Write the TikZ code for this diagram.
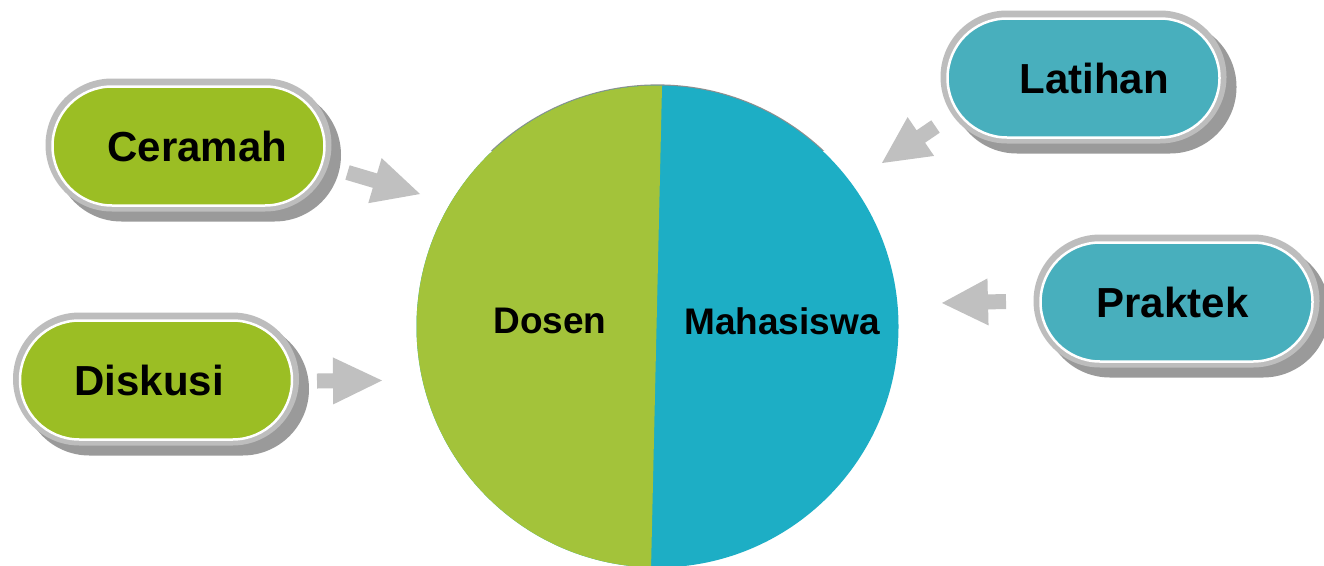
\documentclass[tikz,border=0pt]{standalone}
\usepackage{fontspec}
\setmainfont{Liberation Sans}
\usetikzlibrary{shapes.misc,calc}
\definecolor{pillgreen}{HTML}{9BBE24}
\definecolor{pillblue}{HTML}{48AFBD}
\definecolor{piegreen}{HTML}{A3C33A}
\definecolor{pieblue}{HTML}{1DAEC5}
\definecolor{ringgray}{HTML}{BDBDBD}
\definecolor{shadowgray}{HTML}{9A9A9A}
\definecolor{arrowgray}{HTML}{C0C0C0}
\definecolor{rimgray}{HTML}{8E8E8E}
\tikzset{
  pillshadow/.style={rounded rectangle, fill=shadowgray, minimum width=286pt, minimum height=133pt, inner sep=0pt},
  pillring/.style={rounded rectangle, fill=ringgray, minimum width=286pt, minimum height=133pt, inner sep=0pt},
  pill/.style={rounded rectangle, draw=white, line width=2.5pt, minimum width=272pt, minimum height=119pt, inner sep=0pt, font=\fontsize{42}{50}\selectfont\bfseries},
  greenpill/.style={pill, fill=pillgreen},
  bluepill/.style={pill, fill=pillblue},
  pielabel/.style={font=\fontsize{37}{44}\selectfont\bfseries, inner sep=0pt},
  arrowbody/.style={fill=arrowgray},
}
% block arrow from tail #1 to tip #2 with head length #3
\newcommand\blockarrow[3]{%
  \coordinate (hb) at ($(#2)!#3!(#1)$);
  \fill[arrowbody] ($(#1)!7.5pt!90:(#2)$) -- ($(hb)!7.5pt!-90:(#1)$) -- ($(hb)!23.5pt!-90:(#1)$) -- (#2)
     -- ($(hb)!23.5pt!90:(#1)$) -- ($(hb)!7.5pt!90:(#1)$) -- ($(#1)!7.5pt!-90:(#2)$) -- cycle;
}
\begin{document}
\begin{tikzpicture}[x=1pt,y=-1pt]
\useasboundingbox (0,0) rectangle (1324,565);
\fill[white] (0,0) rectangle (1324,565);

% pie
\coordinate (pc) at (657.5,326.5);
\begin{scope}
  \clip (0,0) rectangle (1324,150);
  \draw[rimgray, line width=1.6pt] (pc) circle (241.3pt);
\end{scope}
\begin{scope}
  \clip (pc) circle (241pt);
  \fill[pieblue] (400,60) rectangle (920,600);
  \fill[piegreen] (400,60) -- (662.6,60) -- (650.3,600) -- (400,600) -- cycle;
\end{scope}
\node[pielabel] (dosen) at (550,321) {Dosen};
\node[pielabel] (mhs) at (782,321) {Mahasiswa};

% pills
\node[pillshadow] (s1) at (198,155) {};
\node[pillring] (r1) at (188.5,145) {};
\node[greenpill] (ceramah) at (188.5,146) {\hspace*{18pt}Ceramah};

\node[pillshadow] (s2) at (166,389) {};
\node[pillring] (r2) at (156,379) {};
\node[greenpill] (diskusi) at (156,380) {Diskusi\hspace*{14pt}};

\node[pillshadow] (s3) at (1093.5,87) {};
\node[pillring] (r3) at (1083.5,77) {};
\node[bluepill] (latihan) at (1083.5,78) {\hspace*{21pt}Latihan};

\node[pillshadow] (s4) at (1186.5,311) {};
\node[pillring] (r4) at (1176.5,301) {};
\node[bluepill] (praktek) at (1176.5,302) {Praktek\hspace*{8pt}};

% arrows
\coordinate (a1t) at (347.5,172.5); \coordinate (a1h) at (420,194);
\blockarrow{a1t}{a1h}{47pt}
\coordinate (a2t) at (317,381); \coordinate (a2h) at (382,380.5);
\blockarrow{a2t}{a2h}{49pt}
\coordinate (a3t) at (935.5,126.5); \coordinate (a3h) at (882,163);
\blockarrow{a3t}{a3h}{47pt}
\coordinate (a4t) at (1006,301.5); \coordinate (a4h) at (942,303);
\blockarrow{a4t}{a4h}{46pt}
\end{tikzpicture}
\end{document}
